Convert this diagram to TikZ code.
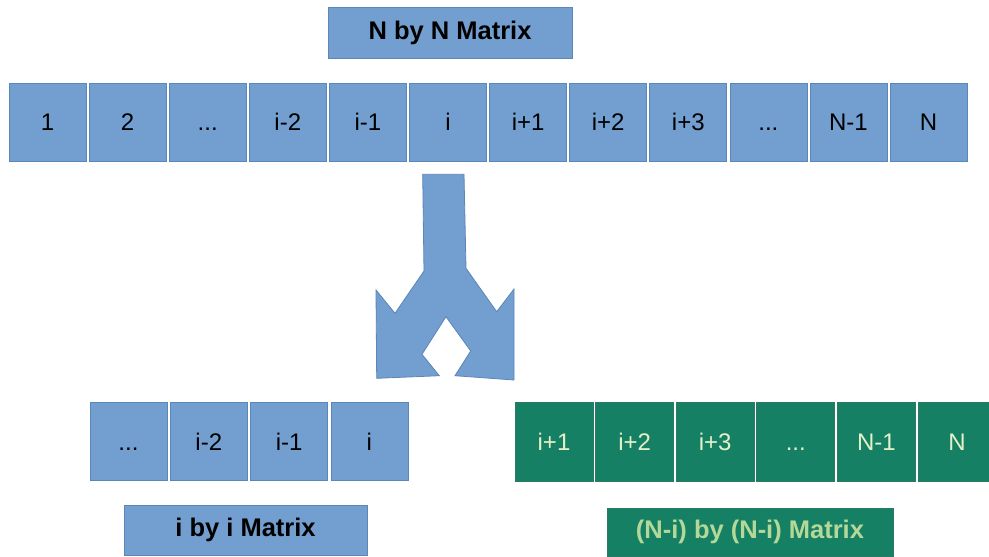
\documentclass[tikz,border=0pt]{standalone}
\usepackage{fontspec}
\setmainfont{Liberation Sans}
\newcommand\cellgap{...}
\begin{document}
\begin{tikzpicture}[x=1pt,y=-1pt,
  cellfont/.style={font=\fontsize{24}{27}\selectfont, text height=17.2pt, text depth=0pt},
  bluecell/.style={draw=edgeblue, line width=0.8pt, fill=cellblue, text=black,
    minimum width=77, minimum height=78, inner sep=0pt, cellfont},
  greencell/.style={draw=edgegreen, line width=0.8pt, fill=cellgreen, text=celltext,
    minimum width=78, minimum height=79, inner sep=0pt, cellfont},
  bluelabel/.style={draw=edgeblue, line width=0.8pt, fill=cellblue, text=black,
    inner sep=0pt, font=\bfseries\fontsize{25.5}{29}\selectfont},
  greenlabel/.style={draw=edgegreen, line width=0.8pt, fill=cellgreen, text=labeltext,
    inner sep=0pt, font=\bfseries\fontsize{25.5}{29}\selectfont},
  splitarrow/.style={draw=edgeblue, line width=0.8pt, fill=cellblue, line join=miter}
]
\definecolor{cellblue}{HTML}{729FCF}
\definecolor{edgeblue}{HTML}{5A86B8}
\definecolor{cellgreen}{HTML}{168064}
\definecolor{edgegreen}{HTML}{2A7A66}
\definecolor{celltext}{HTML}{E4F0C8}
\definecolor{labeltext}{HTML}{B4D898}

\clip (0,0) rectangle (989,557);
\fill[white] (0,0) rectangle (989,557);

% title of the full matrix
\node[bluelabel, minimum width=244, minimum height=51] (full) at (450,32.5) {N by N Matrix};

% the N columns
\foreach \t [count=\k from 0] in {1,2,\cellgap,i-2,i-1,i,i+1,i+2,i+3,\cellgap,N-1,N} {
  \node[bluecell] (top\k) at ({47.5+80.1*\k},122) {\t};
}

% split arrow
\draw[splitarrow]
  (422.7,174.3) -- (464,174.3) -- (466,268.3) -- (496.7,311.7) -- (514,289)
  -- (514,380) -- (455,375.7) -- (470.7,351) -- (446,316.7) -- (422,354.3)
  -- (439.3,375.7) -- (376.7,378.3) -- (376,290) -- (395,313.3) -- (424,271) -- cycle;

% left block: columns up to i
\foreach \t [count=\k from 0] in {\cellgap,i-2,i-1,i} {
  \node[bluecell] (left\k) at ({128.5+80.3*\k},441.5) {\t};
}

% right block: columns after i
\foreach \t [count=\k from 0] in {i+1,i+2,i+3,\cellgap,N-1,N} {
  \node[greencell] (right\k) at ({554+80.6*\k},441.5) {\t};
}

% block titles
\node[bluelabel, minimum width=243, minimum height=50] (lefttitle) at (245.5,530) {i by i Matrix};
\node[greenlabel, minimum width=286, minimum height=48] (righttitle) at (750,532) {(N-i) by (N-i) Matrix};
\end{tikzpicture}
\end{document}
